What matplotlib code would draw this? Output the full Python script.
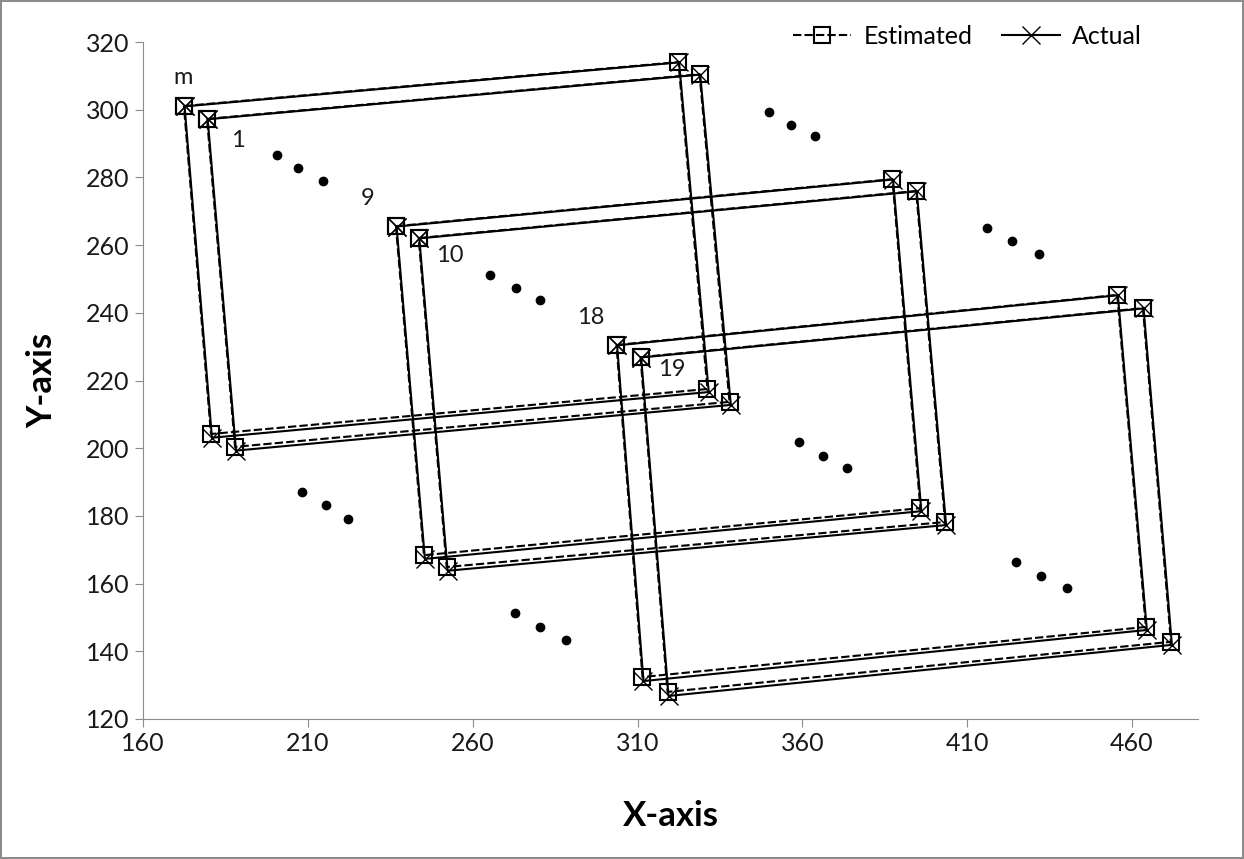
import matplotlib.pyplot as plt

# corners of each frame: top-left, top-right, bottom-right, bottom-left, back to top-left
labels = ["m", "1", "9", "10", "18", "19"]

est_x = [
    [172.4, 322.4, 331.2, 180.6, 172.4],
    [179.4, 328.8, 337.9, 187.9, 179.4],
    [236.7, 387.3, 395.8, 245.2, 236.7],
    [243.6, 394.5, 403.3, 252.1, 243.6],
    [303.6, 455.5, 464.2, 311.5, 303.6],
    [310.9, 463.3, 471.8, 319.1, 310.9],
]
est_y = [
    [301.1, 314.1, 217.5, 204.2, 301.1],
    [297.3, 310.5, 213.7, 200.4, 297.3],
    [265.6, 279.5, 182.3, 168.4, 265.6],
    [262.1, 276.0, 178.2, 164.9, 262.1],
    [230.5, 245.3, 147.2, 132.4, 230.5],
    [226.9, 241.4, 142.8, 128.0, 226.9],
]
act_x = [
    [172.6, 322.6, 331.6, 180.9, 172.6],
    [179.6, 329.0, 338.3, 188.2, 179.6],
    [236.9, 387.5, 396.1, 245.5, 236.9],
    [243.8, 394.7, 403.6, 252.4, 243.8],
    [303.8, 455.7, 464.5, 311.8, 303.8],
    [311.1, 463.5, 472.1, 319.4, 311.1],
]
act_y = [
    [301.0, 314.0, 216.6, 203.1, 301.0],
    [297.2, 310.4, 212.8, 199.3, 297.2],
    [265.5, 279.4, 181.4, 167.3, 265.5],
    [262.0, 275.9, 177.3, 163.8, 262.0],
    [230.4, 245.2, 146.3, 131.2, 230.4],
    [226.8, 241.3, 141.9, 126.8, 226.8],
]

label_x = [172.1, 188.8, 228.2, 253.0, 295.8, 320.3]
label_y = [309.4, 291.0, 273.9, 256.8, 238.5, 223.4]

# the "..." between frames
dots_x = [200.6, 207.0, 214.5, 350.0, 356.4, 363.9, 265.2, 273.0, 280.3,
          416.1, 423.6, 431.8, 208.2, 215.5, 222.1, 359.1, 366.4, 373.6,
          272.7, 280.3, 288.2, 424.8, 432.4, 440.3]
dots_y = [286.6, 282.8, 278.9, 299.3, 295.5, 292.2, 251.2, 247.3, 243.8,
          265.1, 261.2, 257.4, 187.1, 183.2, 179.1, 201.8, 197.7, 194.1,
          151.3, 147.2, 143.3, 166.4, 162.2, 158.7]

plt.rcParams['font.family'] = ['Lato', 'DejaVu Sans']

fig = plt.figure(figsize=(12.44, 8.59), dpi=100)
fig.patch.set_edgecolor('#8c8c8c')
fig.patch.set_linewidth(1.5)
ax = fig.add_axes([0.115, 0.163, 0.848, 0.788])

for i in range(len(labels)):
    ax.plot(est_x[i], est_y[i], color='black', lw=1.5, dashes=(4, 1.5),
            marker='s', ms=12, mfc='none', mec='black', mew=1.5,
            label='Estimated' if i == 0 else None)
    ax.plot(act_x[i], act_y[i], color='black', lw=1.5,
            marker='x', ms=13, mew=1.0,
            label='Actual' if i == 0 else None)

for i, t in enumerate(labels):
    ax.text(label_x[i], label_y[i], t, fontsize=17, ha='center', va='center',
            color='#1a1a1a')

ax.plot(dots_x, dots_y, 'o', color='black', ms=6, ls='none')

ax.set_xlim(160, 480)
ax.set_ylim(120, 320)
ax.set_xticks(range(160, 461, 50))
ax.set_yticks(range(120, 321, 20))
ax.tick_params(labelsize=18, length=6, color='#8c8c8c', labelcolor='#1a1a1a')
ax.spines['top'].set_visible(False)
ax.spines['right'].set_visible(False)
ax.spines['left'].set_color('#8c8c8c')
ax.spines['bottom'].set_color('#8c8c8c')
ax.set_xlabel('X-axis', fontsize=25, fontweight='bold', labelpad=32)
ax.set_ylabel('Y-axis', fontsize=25, fontweight='bold', labelpad=20)

fig.legend(loc='center', bbox_to_anchor=(0.778, 0.958), ncol=2, frameon=False,
           fontsize=18, handlelength=2.3, columnspacing=1.2, handletextpad=0.5)

fig.savefig('out.png', dpi=100, edgecolor=fig.get_edgecolor())
